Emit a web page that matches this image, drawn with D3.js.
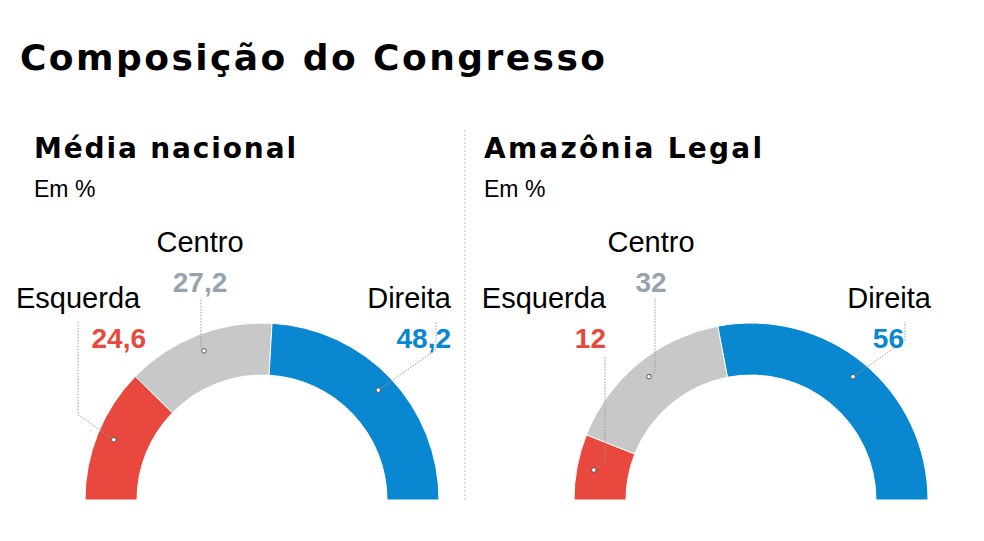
<!DOCTYPE html><html><head><meta charset="utf-8"><script src="https://cdn.jsdelivr.net/npm/d3@7"></script>
<style>body{margin:0;background:#fff}</style></head><body><svg id="c" width="984" height="541"></svg>
<script>
const categories=["Esquerda","Centro","Direita"];
const mediaNacional=[24.6,27.2,48.2];
const amazoniaLegal=[12,32,56];
const valueLabels1=["24,6","27,2","48,2"];
const valueLabels2=["12","32","56"];
const colors=["#e8483d","#c8c8c8","#0a87d1"];
const textColors=["#e8483d","#97a4ae","#0a87d1"];
const svg=d3.select("#c");
const FB="'DejaVu Sans',sans-serif";
const FA="Arial,'Liberation Sans',sans-serif";
svg.append("text").attr("x",20).attr("y",70).attr("font-family",FB).attr("font-weight",700).attr("font-size",36).attr("textLength",585).text("Composição do Congresso");
svg.append("line").attr("x1",465).attr("x2",465).attr("y1",130).attr("y2",500).attr("stroke","#bbb").attr("stroke-dasharray","2,2");
function chart(cx,tx0,title,tw,vals,labs,layout){
  const g=svg.append("g");
  g.append("text").attr("x",tx0).attr("y",158).attr("font-family",FB).attr("font-weight",700).attr("font-size",28).attr("textLength",tw).text(title);
  g.append("text").attr("x",tx0).attr("y",197).attr("font-family",FA).attr("font-size",23).text("Em %");
  const pie=d3.pie().sort(null).startAngle(-Math.PI/2).endAngle(Math.PI/2);
  const arcs=pie(vals);
  const arc=d3.arc().innerRadius(125).outerRadius(177);
  const cy=500;
  const p=g.append("g").attr("transform",`translate(${cx},${cy})`);
  p.selectAll("path").data(arcs).join("path").attr("d",arc).attr("fill",(d,i)=>colors[i]).attr("stroke","#fff").attr("stroke-width",1);
  const la=d3.arc().innerRadius(160).outerRadius(160);
  arcs.forEach((d,i)=>{
    const [x,y]=la.centroid(d);const L=layout[i];
    const px=cx+x,py=cy+y;
    const vx=L.lx, knee=Math.abs(vx-px)>3? py-Math.abs(vx-px)*0.7:py;
    g.append("path").attr("d",`M${px},${py}L${vx},${knee}L${vx},${L.top}`).attr("fill","none").attr("stroke","#999").attr("stroke-width",1).attr("stroke-dasharray","1.5,1.5");
    g.append("circle").attr("cx",px).attr("cy",py).attr("r",2.3).attr("fill","#fff").attr("stroke","#555").attr("stroke-width",1);
    g.append("text").attr("x",L.tx).attr("y",L.ty).attr("text-anchor",L.a).attr("font-family",FA).attr("font-size",29).text(categories[i]);
    g.append("text").attr("x",L.vx).attr("y",L.ty+40).attr("text-anchor",L.va).attr("font-family",FA).attr("font-weight",700).attr("font-size",28).attr("fill",textColors[i]).text(labs[i]);
  });
}
chart(262,34,"Média nacional",262,mediaNacional,valueLabels1,[
 {lx:78,top:322,tx:16,ty:308,vx:146,a:"start",va:"end"},
 {lx:201,top:298,tx:200,ty:252,vx:200,a:"middle",va:"middle"},
 {lx:436,top:322,tx:451,ty:308,vx:451,a:"end",va:"end"}]);
chart(751,484,"Amazônia Legal",278,amazoniaLegal,valueLabels2,[
 {lx:605,top:356,tx:606,ty:308,vx:606,a:"end",va:"end"},
 {lx:655,top:298,tx:651,ty:252,vx:651,a:"middle",va:"middle"},
 {lx:905,top:322,tx:931,ty:308,vx:904,a:"end",va:"end"}]);
</script></body></html>
